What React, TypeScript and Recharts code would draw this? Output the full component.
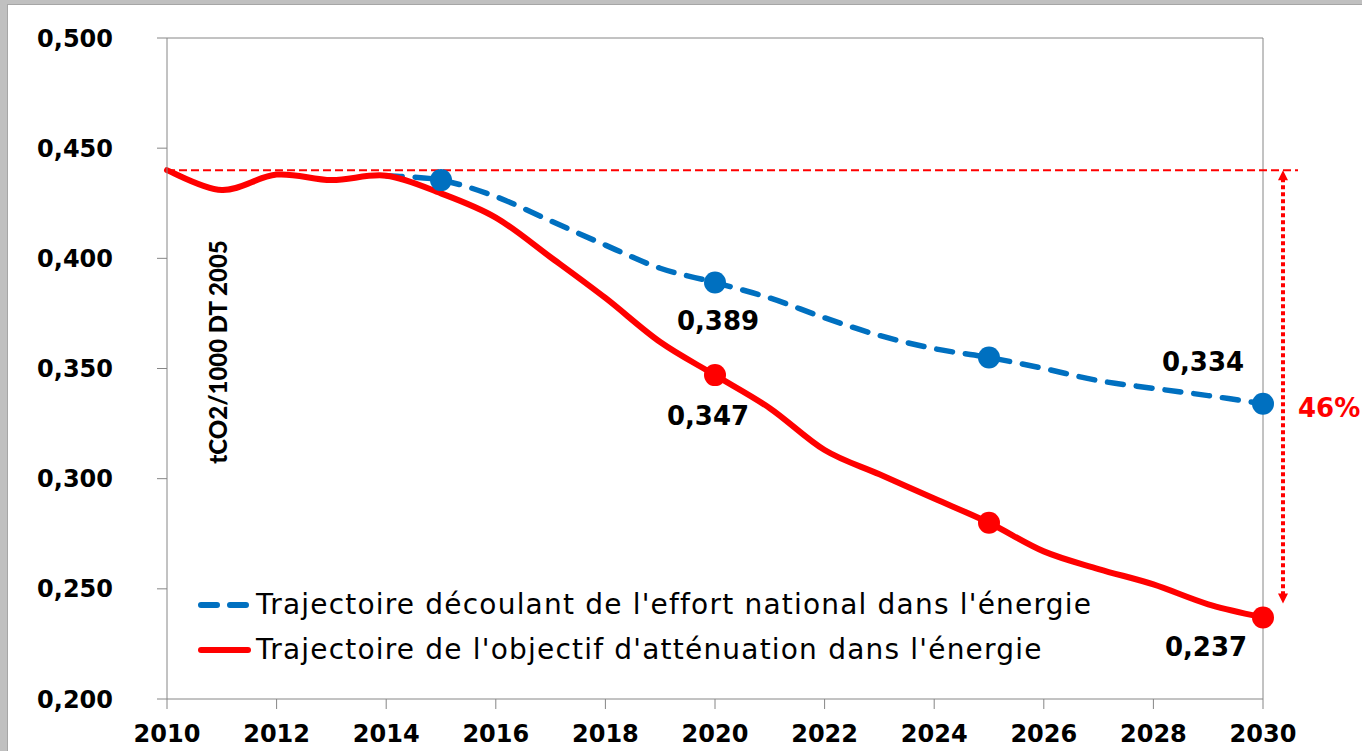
import {
  ComposedChart,
  Line,
  XAxis,
  YAxis,
  Legend,
  ReferenceLine,
  LabelList,
  Label,
} from "recharts";

const years = [
  2010, 2011, 2012, 2013, 2014, 2015, 2016, 2017, 2018, 2019, 2020,
  2021, 2022, 2023, 2024, 2025, 2026, 2027, 2028, 2029, 2030,
];

// Trajectoire de l'objectif d'atténuation (red, solid)
const objectif = [
  0.44, 0.431, 0.438, 0.4355, 0.4375, 0.4295, 0.4185, 0.4005, 0.382, 0.362, 0.347,
  0.332, 0.313, 0.302, 0.291, 0.28, 0.267, 0.259, 0.252, 0.243, 0.237,
];

// Trajectoire découlant de l'effort national (blue, dashed)
const effort = [
  null, null, null, null, 0.4375, 0.4355, 0.428, 0.417, 0.406, 0.3955, 0.389,
  0.382, 0.373, 0.365, 0.359, 0.355, 0.35, 0.3445, 0.341, 0.3377, 0.334,
];

const effortMarkers = [2015, 2020, 2025, 2030];
const objectifMarkers = [2020, 2025, 2030];
const effortLabelYears = [2020, 2030];
const objectifLabelYears = [2020, 2030];

const xTicks = [2010, 2012, 2014, 2016, 2018, 2020, 2022, 2024, 2026, 2028, 2030];
const yTicks = [0.2, 0.25, 0.3, 0.35, 0.4, 0.45, 0.5];

const baseYear = 2010;
const targetYear = 2030;

const BLUE = "#0070C0";
const RED = "#FF0000";
const AXIS = "#868686";
const FONT = "'DejaVu Sans', Verdana, sans-serif";

const data = years.map((year, i) => ({
  year,
  effort: effort[i],
  objectif: objectif[i],
}));

const fmt = (v: number) => v.toFixed(3).replace(".", ",");

const baseValue = objectif[0];
const finalValue = objectif[objectif.length - 1];
const reduction = Math.round(((baseValue - finalValue) / baseValue) * 100);

// Excel-like smoothed line (Catmull-Rom through every point)
function smoothCurve(context: any) {
  let pts: [number, number][] = [];
  return {
    areaStart() {},
    areaEnd() {},
    lineStart() {
      pts = [];
    },
    point(x: number, y: number) {
      pts.push([+x, +y]);
    },
    lineEnd() {
      const n = pts.length;
      if (n === 0) return;
      context.moveTo(pts[0][0], pts[0][1]);
      if (n === 1) return;
      for (let i = 0; i < n - 1; i++) {
        const p0 = pts[i - 1] || pts[i];
        const p1 = pts[i];
        const p2 = pts[i + 1];
        const p3 = pts[i + 2] || p2;
        context.bezierCurveTo(
          p1[0] + (p2[0] - p0[0]) / 6,
          p1[1] + (p2[1] - p0[1]) / 6,
          p2[0] - (p3[0] - p1[0]) / 6,
          p2[1] - (p3[1] - p1[1]) / 6,
          p2[0],
          p2[1]
        );
      }
    },
  };
}

function makeDot(markers: number[], color: string) {
  return (props: any) => {
    const { cx, cy, payload, index } = props;
    if (!markers.includes(payload.year) || cx == null || cy == null) {
      return <g key={`d-${index}`} />;
    }
    return <circle key={`d-${index}`} cx={cx} cy={cy} r={11} fill={color} />;
  };
}

// label offsets relative to the point (px)
const labelOffset: Record<string, [number, number]> = {
  "effort-2020": [3, 38],
  "effort-2030": [-60, -42],
  "objectif-2020": [-7, 41],
  "objectif-2030": [-57, 30],
};

function makeLabel(series: string, labelYears: number[]) {
  return (props: any) => {
    const { x, y, value, index } = props;
    const yr = years[index];
    if (!labelYears.includes(yr) || value == null) return null;
    const [dx, dy] = labelOffset[`${series}-${yr}`];
    return (
      <text
        x={x + dx}
        y={y + dy}
        textAnchor="middle"
        dominantBaseline="central"
        fontFamily={FONT}
        fontWeight="bold"
        fontSize={26}
        fill="#000"
      >
        {fmt(value)}
      </text>
    );
  };
}

const legendOrder = ["effort", "objectif"];
const legendDash: Record<string, string | undefined> = {
  effort: "16 13",
  objectif: undefined,
};

function LegendContent(props: any) {
  const payload = [...(props.payload || [])].sort(
    (a: any, b: any) => legendOrder.indexOf(a.dataKey) - legendOrder.indexOf(b.dataKey)
  );
  return (
    <div style={{ fontFamily: FONT }}>
      {payload.map((entry: any) => (
        <div
          key={entry.dataKey}
          style={{ display: "flex", alignItems: "center", height: 45 }}
        >
          <svg width={56} height={20} style={{ marginRight: 4 }}>
            <line
              x1={5}
              y1={10}
              x2={52}
              y2={10}
              stroke={entry.color}
              strokeWidth={6}
              strokeLinecap="round"
              strokeDasharray={legendDash[entry.dataKey]}
            />
          </svg>
          <span style={{ fontSize: 28, letterSpacing: 1.2, color: "#000", whiteSpace: "nowrap" }}>
            {entry.value}
          </span>
        </div>
      ))}
    </div>
  );
}

export default function App() {
  return (
    <div
      style={{
        position: "absolute",
        left: 0,
        top: 0,
        width: 1362,
        height: 751,
        background: "#c0c0c0",
        overflow: "hidden",
      }}
    >
      <div
        style={{
          position: "absolute",
          left: 7,
          top: 4,
          right: 0,
          bottom: 0,
          background: "#fff",
          borderLeft: "1px solid #a6a6a6",
          borderTop: "1px solid #a6a6a6",
        }}
      />
      <div style={{ position: "absolute", left: 0, top: 0 }}>
        <ComposedChart
          width={1362}
          height={751}
          data={data}
          margin={{ top: 38, right: 99, bottom: 0, left: 47 }}
        >
          <XAxis
            dataKey="year"
            type="number"
            domain={[baseYear, targetYear]}
            ticks={xTicks}
            interval={0}
            height={52}
            tickSize={10}
            tickMargin={16}
            axisLine={{ stroke: AXIS }}
            tickLine={{ stroke: AXIS }}
            tick={{ fontSize: 24, fontWeight: "bold", fill: "#000", fontFamily: FONT }}
          />
          <YAxis
            domain={[0.2, 0.5]}
            ticks={yTicks}
            interval={0}
            width={120}
            tickSize={10}
            tickMargin={44}
            tickFormatter={fmt}
            axisLine={{ stroke: AXIS }}
            tickLine={{ stroke: AXIS }}
            tick={{ fontSize: 24, fontWeight: "bold", fill: "#000", fontFamily: FONT }}
          >
            <Label
              content={(p: any) => {
                const vb = p.viewBox;
                const cx = vb.x + vb.width + 50;
                const cy = vb.y + 314;
                return (
                  <text
                    x={cx}
                    y={cy}
                    transform={`rotate(-90 ${cx} ${cy})`}
                    textAnchor="middle"
                    dominantBaseline="central"
                    fontFamily="Lato, 'Open Sans', sans-serif"
                    fontWeight={900}
                    fontSize={24}
                    fill="#000"
                  >
                    tCO2/1000 DT 2005
                  </text>
                );
              }}
            />
          </YAxis>

          {/* plot frame top and right */}
          <ReferenceLine y={0.5} stroke={AXIS} strokeWidth={1} />
          <ReferenceLine x={targetYear} stroke={AXIS} strokeWidth={1} />

          <Line
            dataKey="effort"
            name="Trajectoire découlant de l'effort national dans l'énergie"
            type={smoothCurve as any}
            stroke={BLUE}
            strokeWidth={5.5}
            strokeDasharray="16 13"
            strokeLinecap="round"
            connectNulls={false}
            dot={makeDot(effortMarkers, BLUE)}
            activeDot={false}
            isAnimationActive={false}
          >
            <LabelList dataKey="effort" content={makeLabel("effort", effortLabelYears)} />
          </Line>
          <Line
            dataKey="objectif"
            name="Trajectoire de l'objectif d'atténuation dans l'énergie"
            type={smoothCurve as any}
            stroke={RED}
            strokeWidth={6}
            strokeLinecap="round"
            dot={makeDot(objectifMarkers, RED)}
            activeDot={false}
            isAnimationActive={false}
          >
            <LabelList dataKey="objectif" content={makeLabel("objectif", objectifLabelYears)} />
          </Line>

          {/* base-year level, dashed */}
          <ReferenceLine
            segment={[
              { x: baseYear, y: baseValue },
              { x: targetYear, y: baseValue },
            ]}
            shape={(p: any) => (
              <line
                x1={p.x1}
                y1={p.y1}
                x2={p.x2 + 35}
                y2={p.y2}
                stroke={RED}
                strokeWidth={2}
                strokeDasharray="8 4"
              />
            )}
          />

          {/* reduction arrow */}
          <ReferenceLine
            segment={[
              { x: targetYear, y: baseValue },
              { x: targetYear, y: finalValue },
            ]}
            shape={(p: any) => {
              const x = p.x1 + 20;
              const top = Math.min(p.y1, p.y2);
              const bottom = Math.max(p.y1, p.y2) - 14;
              const mid = (top + bottom + 14) / 2 + 14;
              return (
                <g>
                  <line
                    x1={x}
                    y1={top + 8}
                    x2={x}
                    y2={bottom - 8}
                    stroke={RED}
                    strokeWidth={4}
                    strokeDasharray="4 3"
                  />
                  <polygon
                    points={`${x - 5},${top + 10} ${x + 5},${top + 10} ${x},${top}`}
                    fill={RED}
                  />
                  <polygon
                    points={`${x - 5},${bottom - 10} ${x + 5},${bottom - 10} ${x},${bottom}`}
                    fill={RED}
                  />
                  <text
                    x={x + 15}
                    y={mid}
                    dominantBaseline="central"
                    fontFamily={FONT}
                    fontWeight="bold"
                    fontSize={26}
                    fill={RED}
                  >
                    {reduction}%
                  </text>
                </g>
              );
            }}
          />

          <Legend
            layout="vertical"
            verticalAlign="middle"
            align="center"
            content={<LegendContent />}
            wrapperStyle={{ left: 196, top: 582, width: 1000 }}
          />
        </ComposedChart>
      </div>
    </div>
  );
}
